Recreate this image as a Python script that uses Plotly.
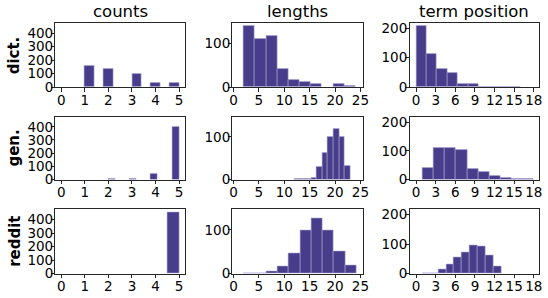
import plotly.graph_objects as go

W, H = 548, 298

col_titles = ["counts", "lengths", "term position"]
row_labels = ["dict.", "gen.", "reddit"]

# histogram bins: (first edge, bin width) and bar heights per panel
counts_dict_start, counts_dict_width = 1.0, 0.4
counts_dict = [160, 0, 137, 0, 0, 100, 0, 34, 0, 29]
counts_gen_start, counts_gen_width = 2.0, 0.3
counts_gen = [2, 0, 0, 7, 0, 0, 39, 0, 0, 400]
counts_reddit_start, counts_reddit_width = 0.0, 0.5
counts_reddit = [0, 0, 0, 0, 0, 0, 0, 0, 0, 452]

lengths_dict_start, lengths_dict_width = 2.0, 2.2
lengths_dict = [140, 111, 118, 42, 16, 12, 7, 0, 7, 3]
lengths_gen_start, lengths_gen_width = 12.0, 1.1
lengths_gen = [1, 1, 1, 4, 30, 63, 99, 119, 100, 31]
lengths_reddit_start, lengths_reddit_width = 2.0, 2.22
lengths_reddit = [1, 1, 4, 16, 46, 100, 127, 98, 50, 18]

term_dict_start, term_dict_width = 0.0, 1.6
term_dict = [208, 112, 63, 47, 11, 10, 2, 1, 1, 1]
term_gen_start, term_gen_width = 1.0, 1.7
term_gen = [40, 110, 109, 102, 38, 28, 12, 5, 1, 1]
term_reddit_start, term_reddit_width = 1.0, 1.2
term_reddit = [1, 1, 14, 30, 56, 72, 96, 94, 63, 26]

panels = [
    [(counts_dict_start, counts_dict_width, counts_dict),
     (lengths_dict_start, lengths_dict_width, lengths_dict),
     (term_dict_start, term_dict_width, term_dict)],
    [(counts_gen_start, counts_gen_width, counts_gen),
     (lengths_gen_start, lengths_gen_width, lengths_gen),
     (term_gen_start, term_gen_width, term_gen)],
    [(counts_reddit_start, counts_reddit_width, counts_reddit),
     (lengths_reddit_start, lengths_reddit_width, lengths_reddit),
     (term_reddit_start, term_reddit_width, term_reddit)],
]

x_ticks = [[0, 1, 2, 3, 4, 5], [0, 5, 10, 15, 20, 25], [0, 3, 6, 9, 12, 15, 18]]
y_ticks = [[0, 100, 200, 300, 400], [0, 100], [0, 100, 200]]
x_ranges = [[-0.25, 5.25], [-0.2, 25.5], [-1.0, 18.8]]
y_ranges = [[0, 475], [0, 147], [0, 218]]

# layout in pixels
col_px = [(53.3, 185.0), (233.3, 366.0), (413.3, 545.0)]
row_px = [(20.7, 87.3), (118.3, 183.3), (214.3, 281.0)]

FILL = "rgb(72,61,139)"
EDGE = "rgba(170,165,210,0.8)"
FONT = "DejaVu Sans"

fig = go.Figure()
layout = {}
for r in range(3):
    for c in range(3):
        idx = r * 3 + c + 1
        start, width, vals = panels[r][c]
        centers = [start + width * (i + 0.5) for i in range(len(vals))]
        keep = [i for i, v in enumerate(vals) if v > 0]
        xa = "x" if idx == 1 else f"x{idx}"
        ya = "y" if idx == 1 else f"y{idx}"
        fig.add_trace(go.Bar(
            x=[centers[i] for i in keep], y=[vals[i] for i in keep],
            width=[width] * len(keep),
            marker=dict(color=FILL, line=dict(color=EDGE, width=0.7)),
            xaxis=xa, yaxis=ya, showlegend=False, hoverinfo="x+y",
        ))
        x0, x1 = col_px[c]
        y0, y1 = row_px[r]
        axis_common = dict(
            showline=True, linecolor="#262626", linewidth=1, mirror=True,
            ticks="outside", ticklen=3.5, tickwidth=1, tickcolor="#262626",
            showgrid=False, zeroline=False,
            tickfont=dict(family=FONT, size=13.5, color="black"),
        )
        layout["xaxis" if idx == 1 else f"xaxis{idx}"] = dict(
            domain=[x0 / W, x1 / W], range=x_ranges[c],
            tickmode="array", tickvals=x_ticks[c],
            anchor=ya, ticklabelstandoff=-3, **axis_common)
        layout["yaxis" if idx == 1 else f"yaxis{idx}"] = dict(
            domain=[1 - y1 / H, 1 - y0 / H], range=y_ranges[c],
            tickmode="array", tickvals=y_ticks[c],
            anchor=xa, ticklabelstandoff=-5, **axis_common)

annotations = []
for c in range(3):
    x0, x1 = col_px[c]
    annotations.append(dict(
        text=col_titles[c], x=(x0 + x1) / 2 / W, y=1 - row_px[0][0] / H,
        xref="paper", yref="paper", xanchor="center", yanchor="bottom",
        yshift=0, showarrow=False,
        font=dict(family=FONT, size=16.5, color="black")))
for r in range(3):
    y0, y1 = row_px[r]
    annotations.append(dict(
        text=f"<b>{row_labels[r]}</b>", x=11.5 / W, y=1 - (y0 + y1) / 2 / H,
        xref="paper", yref="paper", xanchor="center", yanchor="middle",
        textangle=-90, showarrow=False,
        font=dict(family=FONT, size=15, color="black")))

fig.update_layout(
    width=W, height=H, margin=dict(l=0, r=0, t=0, b=0),
    paper_bgcolor="white", plot_bgcolor="white",
    bargap=0, annotations=annotations, **layout)

fig.write_html("out.html", config={"displayModeBar": False},
               post_script="document.body.style.margin='0px';document.body.style.overflow='hidden';")
